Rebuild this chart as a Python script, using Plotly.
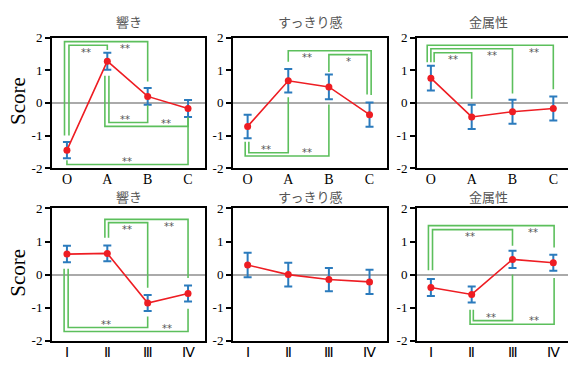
import plotly.graph_objects as go

# ---------------- data ----------------
cats_top = ["O", "A", "B", "C"]
cats_bot = ["Ⅰ", "Ⅱ", "Ⅲ", "Ⅳ"]
titles = ["響き", "すっきり感", "金属性"]

hibiki_top = [-1.45, 1.28, 0.20, -0.17]
hibiki_top_err = [0.25, 0.26, 0.26, 0.26]
sukkiri_top = [-0.72, 0.68, 0.49, -0.36]
sukkiri_top_err = [0.36, 0.36, 0.38, 0.37]
kinzoku_top = [0.76, -0.43, -0.27, -0.17]
kinzoku_top_err = [0.38, 0.37, 0.37, 0.37]

hibiki_bot = [0.62, 0.64, -0.86, -0.57]
hibiki_bot_err = [0.25, 0.24, 0.24, 0.24]
sukkiri_bot = [0.29, 0.00, -0.15, -0.22]
sukkiri_bot_err = [0.37, 0.36, 0.35, 0.37]
kinzoku_bot = [-0.39, -0.60, 0.46, 0.36]
kinzoku_bot_err = [0.26, 0.24, 0.26, 0.24]

# significance brackets: (i, j, label, bar_y, end_i, end_j, dx_i, dx_j, label_x)
sig_hibiki_top = [
    (0, 1, "**", 1.77, -1.00, 1.62, 0.05, 0.0, 0.46),
    (0, 2, "**", 1.88, -1.00, 0.66, -0.06, 0.0, 1.45),
    (1, 2, "**", -0.60, 0.83, -0.07, 0.04, 0.0, 1.45),
    (1, 3, "**", -0.72, 0.83, -0.45, -0.06, 0.0, 2.45),
    (0, 3, "**", -1.89, -1.76, -0.45, 0.0, 0.0, 1.48),
]
sig_sukkiri_top = [
    (0, 1, "**", -1.53, -1.19, 0.17, 0.03, 0.0, 0.46),
    (0, 2, "**", -1.63, -1.19, -0.05, -0.06, 0.0, 1.46),
    (1, 3, "**", 1.60, 1.26, 0.24, 0.0, 0.04, 1.46),
    (2, 3, "*", 1.48, 0.95, 0.26, 0.0, -0.06, 2.49),
]
sig_kinzoku_top = [
    (0, 1, "**", 1.54, 1.25, 0.13, 0.08, 0.0, 0.54),
    (0, 2, "**", 1.66, 1.25, 0.29, 0.0, 0.0, 1.49),
    (0, 3, "**", 1.77, 1.25, 0.42, -0.09, 0.0, 2.52),
]
sig_hibiki_bot = [
    (1, 2, "**", 1.57, 1.11, -0.40, 0.03, 0.0, 1.50),
    (1, 3, "**", 1.67, 1.11, -0.10, -0.06, 0.0, 2.53),
    (0, 2, "**", -1.60, 0.18, -1.27, 0.03, 0.0, 0.97),
    (0, 3, "**", -1.72, 0.18, -1.03, -0.07, 0.0, 2.48),
]
sig_sukkiri_bot = []
sig_kinzoku_bot = [
    (0, 2, "**", 1.36, 0.13, 0.87, 0.04, 0.0, 0.97),
    (0, 3, "**", 1.48, 0.13, 0.82, -0.06, 0.02, 2.50),
    (1, 2, "**", -1.39, -1.06, 0.00, 0.04, 0.0, 1.47),
    (1, 3, "**", -1.50, -1.06, -0.10, -0.04, 0.02, 2.52),
]

panels = [
    (cats_top, hibiki_top, hibiki_top_err, sig_hibiki_top, titles[0]),
    (cats_top, sukkiri_top, sukkiri_top_err, sig_sukkiri_top, titles[1]),
    (cats_top, kinzoku_top, kinzoku_top_err, sig_kinzoku_top, titles[2]),
    (cats_bot, hibiki_bot, hibiki_bot_err, sig_hibiki_bot, titles[0]),
    (cats_bot, sukkiri_bot, sukkiri_bot_err, sig_sukkiri_bot, titles[1]),
    (cats_bot, kinzoku_bot, kinzoku_bot_err, sig_kinzoku_bot, titles[2]),
]

# ---------------- layout geometry ----------------
W, H = 568, 367
col_px = [(52, 205), (233, 387), (417, 568)]
row_px = [(32, 168), (210, 348)]
col_dom = [[a / W, b / W] for a, b in col_px]
row_dom = [[1 - b / H, 1 - a / H] for a, b in row_px]
x_ranges = [[-0.37, 3.42], [-0.36, 3.43], [-0.34, 3.36]]

RED = "#ee1d23"
BLUE = "#2b7bbd"
GREEN = "#5cbf5c"
SERIF = "Liberation Serif, Times New Roman, serif"
CJK = "Noto Sans CJK JP, sans-serif"

fig = go.Figure()
shapes = []
annotations = []
layout = {}

for k, (cats, vals, errs, sigs, title) in enumerate(panels):
    r, c = divmod(k, 3)
    n = k + 1
    xa = "x" if n == 1 else f"x{n}"
    ya = "y" if n == 1 else f"y{n}"
    xs = list(range(len(cats)))

    fig.add_trace(go.Scatter(
        x=xs, y=vals, xaxis=xa, yaxis=ya, mode="lines+markers",
        line=dict(color=RED, width=1.6),
        marker=dict(color=RED, size=7),
        error_y=dict(type="data", array=errs, visible=True,
                     color=BLUE, thickness=2, width=4),
        showlegend=False, cliponaxis=False,
    ))

    xkey = "xaxis" if n == 1 else f"xaxis{n}"
    ykey = "yaxis" if n == 1 else f"yaxis{n}"
    layout[xkey] = dict(
        domain=col_dom[c], anchor=ya, range=x_ranges[c],
        tickmode="array", tickvals=xs, ticktext=cats,
        showline=True, linecolor="black", linewidth=2, mirror=True,
        ticks="", showgrid=False, zeroline=False,
        tickfont=dict(family=SERIF, size=14, color="black"),
        ticklabelstandoff=-3,
        fixedrange=True,
    )
    layout[ykey] = dict(
        domain=row_dom[r], anchor=xa, range=[-2, 2],
        tickmode="array", tickvals=[-2, -1, 0, 1, 2],
        ticktext=["-2", "-1", "0", "1", "2"],
        showline=True, linecolor="black", linewidth=2,
        mirror=(c != 2),
        ticks="outside", ticklen=5, tickwidth=1.5, tickcolor="black",
        showgrid=False, zeroline=True, zerolinecolor="#aaaaaa", zerolinewidth=1.5,
        tickfont=dict(family=SERIF, size=13, color="black"),
        fixedrange=True,
    )

    for (i, j, lab, bar, ei, ej, dxi, dxj, lx) in sigs:
        xl = i + dxi
        xr = j + dxj
        shapes.append(dict(
            type="path", xref=xa, yref=ya,
            path=f"M {xl},{ei} L {xl},{bar} L {xr},{bar} L {xr},{ej}",
            line=dict(color=GREEN, width=1.6), layer="above",
        ))
        ly = bar - 0.22 if bar > max(ei, ej) else bar + 0.1
        annotations.append(dict(
            x=lx, y=ly, xref=xa, yref=ya, text=lab, showarrow=False,
            font=dict(family="DejaVu Sans", size=10, color="#555555"),
            xanchor="center", yanchor="middle",
        ))

    # panel title
    cx = (col_px[c][0] + min(col_px[c][1], 560)) / 2 / W
    ty = 1 - (15 if r == 0 else 198) / H
    annotations.append(dict(
        x=cx, y=ty, xref="paper", yref="paper", text=title, showarrow=False,
        font=dict(family=CJK, size=13, color="#555555"),
        xanchor="center", yanchor="middle",
    ))

# y-axis titles
for r in range(2):
    cy = 1 - ((row_px[r][0] + row_px[r][1]) / 2 - 2) / H
    annotations.append(dict(
        x=18 / W, y=cy, xref="paper", yref="paper", text="Score",
        textangle=-90, showarrow=False,
        font=dict(family=SERIF, size=21, color="black"),
        xanchor="center", yanchor="middle",
    ))

fig.update_layout(
    width=W, height=H,
    margin=dict(l=0, r=0, t=0, b=0),
    paper_bgcolor="white", plot_bgcolor="white",
    shapes=shapes, annotations=annotations,
    **layout,
)

fig.write_html(
    "out.html",
    config={"displayModeBar": False},
    post_script="document.body.style.margin='0';document.body.style.overflow='hidden';",
)
